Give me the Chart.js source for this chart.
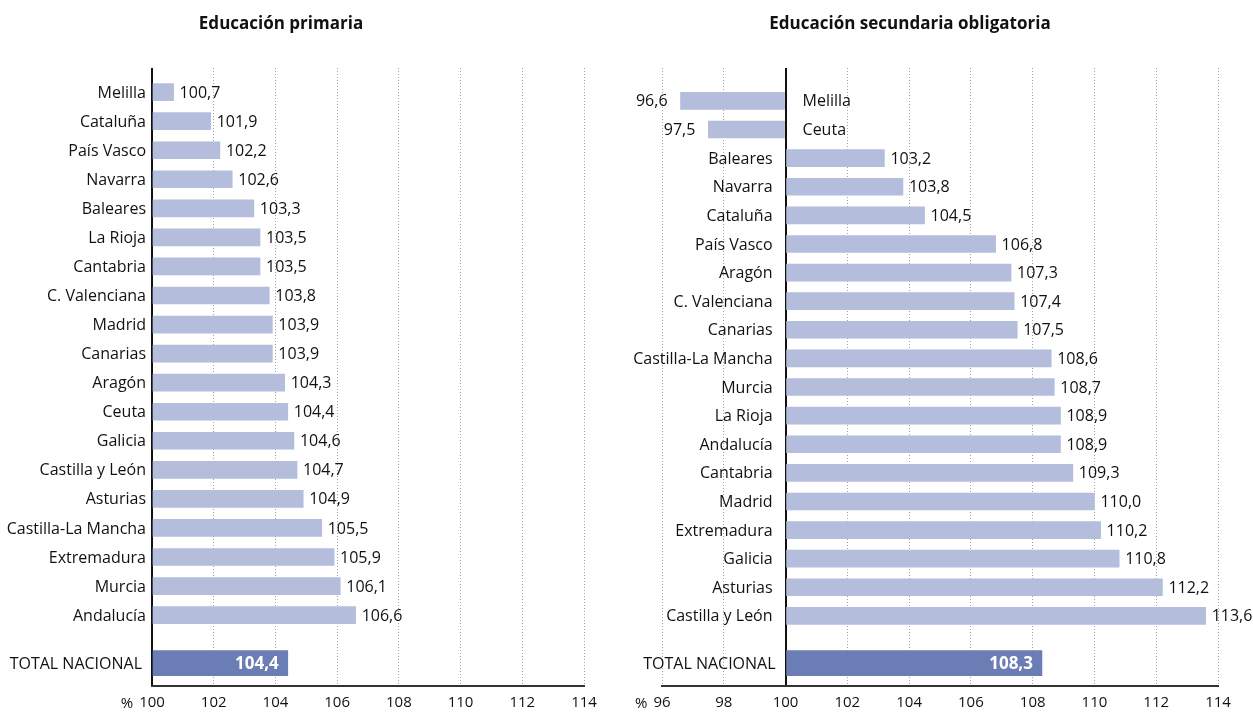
<!DOCTYPE html>
<html>
<head>
<meta charset="utf-8">
<script src="https://cdn.jsdelivr.net/npm/chart.js@4.4.1/dist/chart.umd.min.js"></script>
<style>
    body { margin: 0; background: #fff; }
    #wrap { position: relative; width: 1253px; height: 715px; }
    #box1 { position: absolute; left: 0; top: 0; }
    #box2 { position: absolute; left: 620px; top: 0; }
</style>
</head>
<body>
<div id="wrap">
    <div id="box1"><canvas id="chart1" width="620" height="715"></canvas></div>
    <div id="box2"><canvas id="chart2" width="633" height="715"></canvas></div>
</div>
<script>
// datos
const primariaTitle = "Educación primaria";
const primariaLabels = ["Melilla", "Cataluña", "País Vasco", "Navarra", "Baleares", "La Rioja", "Cantabria",
    "C. Valenciana", "Madrid", "Canarias", "Aragón", "Ceuta", "Galicia", "Castilla y León", "Asturias",
    "Castilla-La Mancha", "Extremadura", "Murcia", "Andalucía"];
const primariaValues = [100.7, 101.9, 102.2, 102.6, 103.3, 103.5, 103.5, 103.8, 103.9, 103.9, 104.3, 104.4,
    104.6, 104.7, 104.9, 105.5, 105.9, 106.1, 106.6];
const primariaTotal = 104.4;
const primariaTicks = [100, 102, 104, 106, 108, 110, 112, 114];

const secundariaTitle = "Educación secundaria obligatoria";
const secundariaLabels = ["Melilla", "Ceuta", "Baleares", "Navarra", "Cataluña", "País Vasco", "Aragón",
    "C. Valenciana", "Canarias", "Castilla-La Mancha", "Murcia", "La Rioja", "Andalucía", "Cantabria",
    "Madrid", "Extremadura", "Galicia", "Asturias", "Castilla y León"];
const secundariaValues = [96.6, 97.5, 103.2, 103.8, 104.5, 106.8, 107.3, 107.4, 107.5, 108.6, 108.7, 108.9,
    108.9, 109.3, 110.0, 110.2, 110.8, 112.2, 113.6];
const secundariaTotal = 108.3;
const secundariaTicks = [96, 98, 100, 102, 104, 106, 108, 110, 112, 114];

const totalLabel = "TOTAL NACIONAL";
const baseValue = 100;

const FONT = '"Open Sans", sans-serif';
const lightBar = "#b4bddb";
const darkBar = "#6a7db5";

function fmt(v) {
    return v.toFixed(1).replace(".", ",");
}

// etiquetas, titulo y valores
const rowLabels = {
    id: "rowLabels",
    afterDatasetsDraw(chart, args, o) {
        const ctx = chart.ctx;
        const x = chart.scales.x;
        const axisX = x.getPixelForValue(baseValue);
        const bars = chart.getDatasetMeta(0).data;
        const tot = chart.getDatasetMeta(1).data[0];

        ctx.save();
        ctx.textBaseline = "middle";
        ctx.fillStyle = "#111";
        ctx.font = "16px " + FONT;
        o.labels.forEach(function (lab, i) {
            const v = o.values[i];
            const b = bars[i];
            const py = b.y + 1;
            if (v >= baseValue) {
                ctx.textAlign = "right";
                ctx.fillText(lab, axisX - o.labelGap, py);
                ctx.textAlign = "left";
                ctx.fillText(fmt(v), b.x + 6, py);
            } else {
                ctx.textAlign = "left";
                ctx.fillText(lab, axisX + 17, py);
                ctx.textAlign = "right";
                ctx.fillText(fmt(v), b.x - 13, py);
            }
        });

        // total
        ctx.textAlign = "right";
        ctx.fillText(totalLabel, axisX - 10, tot.y + 1);
        ctx.font = "bold 17px " + FONT;
        ctx.fillStyle = "#fff";
        ctx.fillText(fmt(o.total), tot.x - 9, tot.y + 1);

        // titulo
        ctx.font = "bold 17px " + FONT;
        ctx.fillStyle = "#111";
        ctx.textAlign = "center";
        ctx.fillText(o.title, o.titleX, 24);

        // signo %
        ctx.font = "15px " + FONT;
        const first = x.ticks[0];
        const fx = x.getPixelForValue(first.value);
        const w = ctx.measureText(String(first.value)).width;
        ctx.textAlign = "right";
        ctx.fillText("%", fx - w / 2 - 6, 704);
        ctx.restore();
    }
};

function makeChart(id, labels, values, total, ticks, title, opt) {
    const n = values.length;
    return new Chart(document.getElementById(id), {
        type: "bar",
        data: {
            datasets: [
                {
                    data: values.map(function (v, i) { return { x: v, y: i }; }),
                    backgroundColor: lightBar,
                    base: baseValue,
                    barThickness: 17,
                    grouped: false
                },
                {
                    data: [{ x: total, y: n - 1 + 1.65 }],
                    backgroundColor: darkBar,
                    base: baseValue,
                    barThickness: 25,
                    grouped: false
                }
            ]
        },
        options: {
            indexAxis: "y",
            responsive: false,
            animation: false,
            layout: { padding: opt.padding },
            plugins: {
                legend: { display: false },
                tooltip: { enabled: false },
                rowLabels: {
                    labels: labels, values: values, total: total,
                    title: title, titleX: opt.titleX, labelGap: opt.labelGap
                }
            },
            scales: {
                x: {
                    type: "linear",
                    min: ticks[0],
                    max: ticks[ticks.length - 1],
                    afterBuildTicks: function (s) {
                        s.ticks = ticks.map(function (v) { return { value: v }; });
                    },
                    afterFit: function (s) { s.height = 29; },
                    ticks: {
                        color: "#111",
                        font: { family: FONT, size: 15 },
                        padding: 8,
                        maxRotation: 0
                    },
                    grid: {
                        drawTicks: false,
                        color: function (c) { return c.tick && c.tick.value === baseValue ? "#111" : "#a0a0a0"; },
                        lineWidth: function (c) { return c.tick && c.tick.value === baseValue ? 2 : 1; }
                    },
                    border: {
                        color: "#333",
                        width: 2,
                        dash: function (c) { return c.tick && c.tick.value === baseValue ? [] : [1, 2]; }
                    }
                },
                y: {
                    type: "linear",
                    display: false,
                    reverse: true,
                    offset: false,
                    grace: 0,
                    min: opt.yMin,
                    max: opt.yMax
                }
            }
        },
        plugins: [rowLabels]
    });
}

makeChart("chart1", primariaLabels, primariaValues, primariaTotal, primariaTicks, primariaTitle, {
    padding: { left: 152, right: 36, top: 68, bottom: 0 },
    yMin: -0.83, yMax: 20.44, titleX: 281, labelGap: 6
});

makeChart("chart2", secundariaLabels, secundariaValues, secundariaTotal, secundariaTicks, secundariaTitle, {
    padding: { left: 42, right: 35, top: 68, bottom: 0 },
    yMin: -1.15, yMax: 20.45, titleX: 290, labelGap: 13
});
</script>
</body>
</html>
